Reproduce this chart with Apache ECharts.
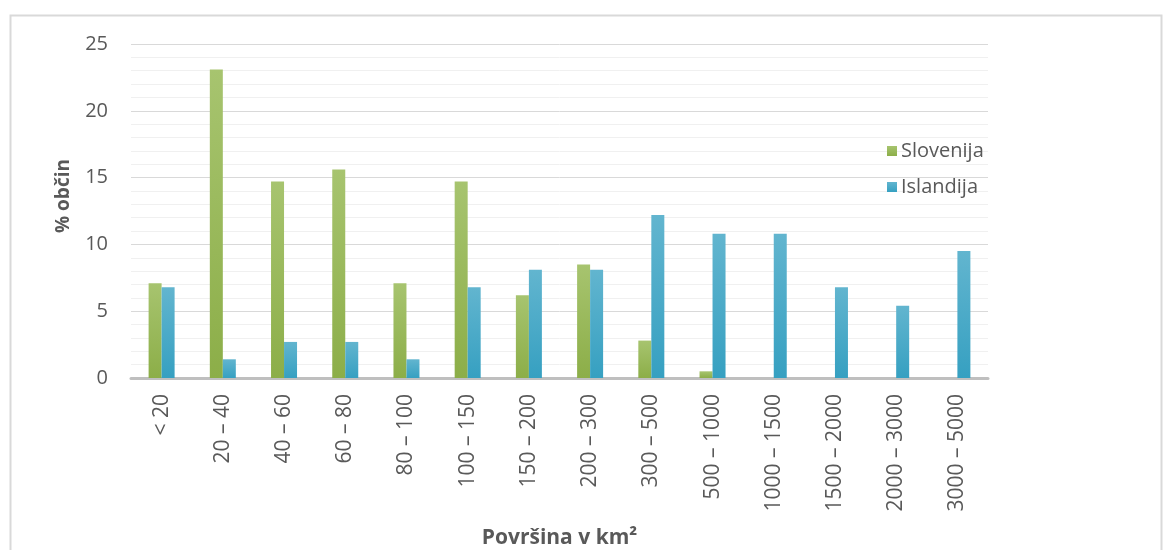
<!DOCTYPE html>
<html>
<head>
<meta charset="utf-8">
<script src="https://cdn.jsdelivr.net/npm/echarts@6/dist/echarts.min.js"></script>
<style>
html,body{margin:0;padding:0;background:#fff;}
#main{width:1164px;height:550px;}
</style>
</head>
<body>
<div id="main"></div>
<script>
// kategorije povrsine
var categories=["< 20","20 – 40","40 – 60","60 – 80","80 – 100","100 – 150","150 – 200","200 – 300","300 – 500","500 – 1000","1000 – 1500","1500 – 2000","2000 – 3000","3000 – 5000"];
// % obcin
var slovenija=[7.1,23.1,14.7,15.6,7.1,14.7,6.2,8.5,2.8,0.5,0,0,0,0];
var islandija=[6.8,1.4,2.7,2.7,1.4,6.8,8.1,8.1,12.2,10.8,10.8,6.8,5.4,9.5];
var yTicks=[0,5,10,15,20,25];

var myChart=echarts.init(document.getElementById('main'));

function grad(top,bottom){
	return new echarts.graphic.LinearGradient(0,0,0,1,[{offset:0,color:top},{offset:1,color:bottom}]);
}

var option={
	backgroundColor:'#fff',
	animation:false,
	textStyle:{fontFamily:'Open Sans'},
	graphic:[{
		type:'rect',
		shape:{x:10.5,y:15.5,width:1151,height:600},
		style:{fill:'none',stroke:'#d9d9d9',lineWidth:2},
		silent:true
	}],
	legend:{
		orient:'vertical',
		left:882,
		top:136,
		itemWidth:10,
		itemHeight:10,
		itemGap:16,
		icon:'rect',
		textStyle:{fontSize:20,color:'#595959',fontFamily:'Open Sans',padding:[0,0,0,-1]},
		data:['Slovenija','Islandija']
	},
	grid:{left:131,right:176,top:44,bottom:172,outerBoundsMode:'none'},
	xAxis:{
		type:'category',
		data:categories,
		name:'Površina v km²',
		nameLocation:'middle',
		nameGap:150,
		nameTextStyle:{fontSize:21,fontWeight:'bold',color:'#595959',fontFamily:'Open Sans'},
		axisLine:{lineStyle:{color:'#bfbfbf',width:3}},
		axisTick:{show:false},
		axisLabel:{rotate:90,fontSize:21,color:'#595959',margin:16,interval:0}
	},
	yAxis:{
		type:'value',
		min:yTicks[0],
		max:yTicks[yTicks.length-1],
		interval:5,
		name:'% občin',
		nameLocation:'middle',
		nameGap:58,
		nameTextStyle:{fontSize:19,fontWeight:'bold',color:'#595959',fontFamily:'Open Sans',padding:[0,0,0,30]},
		axisLine:{show:false},
		axisTick:{show:false},
		axisLabel:{fontSize:20,color:'#595959',margin:23},
		splitLine:{lineStyle:{color:'#d9d9d9',width:1}},
		minorTick:{show:false,splitNumber:5},
		minorSplitLine:{show:true,lineStyle:{color:'#f0f0f0',width:1}}
	},
	series:[{
		name:'Slovenija',
		type:'bar',
		data:slovenija,
		barWidth:13,
		barGap:'0%',
		itemStyle:{color:grad('#a7c46f','#8cae48')}
	},{
		name:'Islandija',
		type:'bar',
		data:islandija,
		barWidth:13,
		itemStyle:{color:grad('#62b5cf','#36a0c1')}
	}]
};
myChart.setOption(option);
</script>
</body>
</html>
